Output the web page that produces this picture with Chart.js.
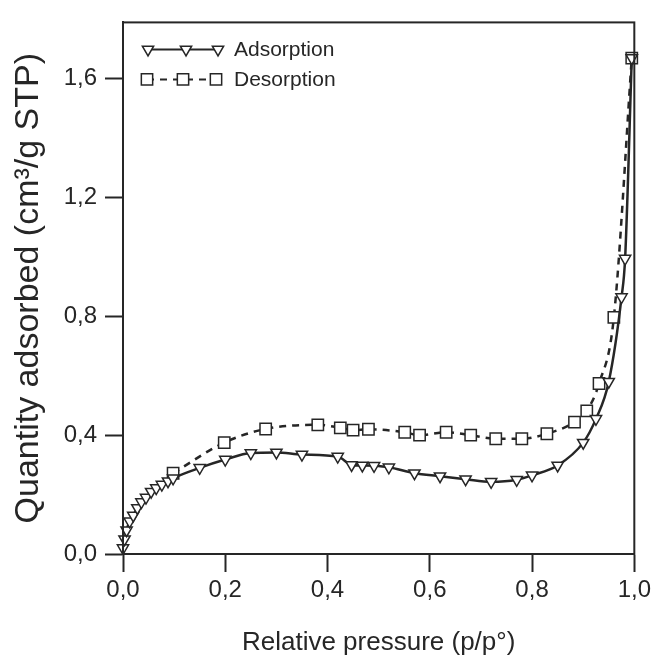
<!DOCTYPE html>
<html>
<head>
<meta charset="utf-8">
<script src="https://cdn.jsdelivr.net/npm/chart.js@4.4.1/dist/chart.umd.min.js"></script>
<style>
    html, body { margin: 0; padding: 0; background: #fff; }
    #isothermChart { display: block; }
</style>
</head>
<body>
<canvas id="isothermChart" width="655" height="660"></canvas>
<script>
// values
const adsorptionP = [0.0, 0.003, 0.007, 0.013, 0.02, 0.028, 0.036, 0.045, 0.055, 0.065, 0.076, 0.088, 0.098,
    0.15, 0.2, 0.25, 0.3, 0.35, 0.42, 0.447, 0.468, 0.491, 0.52, 0.57, 0.62, 0.67, 0.72, 0.77, 0.80,
    0.85, 0.90, 0.925, 0.95, 0.975, 0.982, 0.995];
const adsorptionQ = [0.02, 0.05, 0.08, 0.11, 0.13, 0.155, 0.175, 0.19, 0.21, 0.222, 0.234, 0.245, 0.255,
    0.29, 0.318, 0.34, 0.342, 0.335, 0.328, 0.30, 0.298, 0.297, 0.292, 0.272, 0.262, 0.252, 0.243, 0.25, 0.265,
    0.298, 0.375, 0.455, 0.58, 0.865, 0.995, 1.67];

const desorptionP = [0.098, 0.198, 0.279, 0.381, 0.425, 0.450, 0.480, 0.551, 0.580, 0.632, 0.680, 0.729,
    0.780, 0.829, 0.883, 0.907, 0.931, 0.960, 0.995];
const desorptionQ = [0.272, 0.375, 0.421, 0.435, 0.425, 0.417, 0.420, 0.410, 0.400, 0.410, 0.400, 0.388,
    0.388, 0.405, 0.444, 0.482, 0.574, 0.797, 1.67];

const xTickValues = [0, 0.2, 0.4, 0.6, 0.8, 1.0];
const xTickLabels = ['0,0', '0,2', '0,4', '0,6', '0,8', '1,0'];
const yTickValues = [0, 0.4, 0.8, 1.2, 1.6];
const yTickLabels = ['0,0', '0,4', '0,8', '1,2', '1,6'];

const ink = '#262626';
const fontFamily = "'Liberation Sans', Arial, sans-serif";

const toPoints = (xs, ys) => xs.map((x, i) => ({ x: x, y: ys[i] }));

// box around the plot area + legend drawn inside the top-left corner
const framePlugin = {
    id: 'frame',
    afterDraw(chart) {
        const { ctx, chartArea } = chart;
        ctx.save();
        ctx.strokeStyle = ink;
        ctx.lineWidth = 2;
        ctx.strokeRect(chartArea.left, chartArea.top, chartArea.right - chartArea.left, chartArea.bottom - chartArea.top);

        const sets = chart.data.datasets;
        const rows = [
            { ds: sets[0], y: chartArea.top + 27, xs: [148, 186, 218] },
            { ds: sets[1], y: chartArea.top + 57, xs: [147, 183, 216] },
        ];
        rows.forEach(row => {
            ctx.strokeStyle = ink;
            ctx.lineWidth = 2;
            ctx.setLineDash(row.ds.borderDash || []);
            ctx.beginPath();
            ctx.moveTo(row.xs[0], row.y);
            ctx.lineTo(row.xs[row.xs.length - 1], row.y);
            ctx.stroke();
            ctx.setLineDash([]);
            row.xs.forEach(px => {
                ctx.fillStyle = '#fff';
                ctx.strokeStyle = ink;
                ctx.lineWidth = 1.5;
                Chart.helpers.drawPoint(ctx, {
                    pointStyle: row.ds.pointStyle,
                    rotation: row.ds.pointRotation || 0,
                    radius: row.ds.pointRadius,
                    borderWidth: 1.5,
                }, px, row.y);
            });
            ctx.fillStyle = ink;
            ctx.font = '21px ' + fontFamily;
            ctx.textAlign = 'left';
            ctx.textBaseline = 'middle';
            ctx.fillText(row.ds.label, 234, row.y + 1);
        });
        ctx.restore();
    }
};

const ctx = document.getElementById('isothermChart').getContext('2d');

new Chart(ctx, {
    type: 'line',
    data: {
        datasets: [{
            label: 'Adsorption',
            data: toPoints(adsorptionP, adsorptionQ),
            borderColor: ink,
            borderWidth: 2.5,
            cubicInterpolationMode: 'monotone',
            pointStyle: 'triangle',
            pointRotation: 180,
            pointRadius: 6.5,
            pointBorderWidth: 1.5,
            pointBackgroundColor: '#fff',
            pointBorderColor: ink,
            clip: false,
        }, {
            label: 'Desorption',
            data: toPoints(desorptionP, desorptionQ),
            borderColor: ink,
            borderWidth: 2.5,
            borderDash: [7, 6],
            cubicInterpolationMode: 'monotone',
            pointStyle: 'rect',
            pointRadius: 8,
            pointBorderWidth: 1.5,
            pointBackgroundColor: '#fff',
            pointBorderColor: ink,
            clip: false,
        }],
    },
    options: {
        responsive: false,
        animation: false,
        layout: { padding: { top: 13, right: 17, left: 0, bottom: 0 } },
        plugins: {
            legend: { display: false },
            tooltip: { enabled: false },
        },
        scales: {
            x: {
                type: 'linear',
                min: 0,
                max: 1,
                afterBuildTicks: scale => { scale.ticks = xTickValues.map(v => ({ value: v })); },
                afterFit: scale => { scale.height = 106; },
                ticks: {
                    callback: (value, index) => xTickLabels[index],
                    color: ink,
                    font: { family: fontFamily, size: 24 },
                    padding: 4,
                    maxRotation: 0,
                    autoSkip: false,
                },
                grid: { drawOnChartArea: false, tickLength: 18, tickColor: ink, tickWidth: 2 },
                border: { color: ink, width: 2 },
                title: {
                    display: true,
                    text: 'Relative pressure (p/p°)',
                    color: ink,
                    font: { family: fontFamily, size: 26 },
                    padding: { top: 0, bottom: 2 },
                },
            },
            y: {
                type: 'linear',
                min: 0,
                max: 1.79,
                afterBuildTicks: scale => { scale.ticks = yTickValues.map(v => ({ value: v })); },
                afterFit: scale => { scale.width = 123; },
                ticks: {
                    callback: (value, index) => yTickLabels[index],
                    color: ink,
                    font: { family: fontFamily, size: 24 },
                    padding: 8,
                },
                grid: { drawOnChartArea: false, tickLength: 18, tickColor: ink, tickWidth: 2 },
                border: { color: ink, width: 2 },
                title: {
                    display: true,
                    text: 'Quantity adsorbed (cm³/g STP)',
                    color: ink,
                    font: { family: fontFamily, size: 34 },
                    padding: { top: 8, bottom: 0 },
                },
            },
        },
    },
    plugins: [framePlugin],
});
</script>
</body>
</html>
